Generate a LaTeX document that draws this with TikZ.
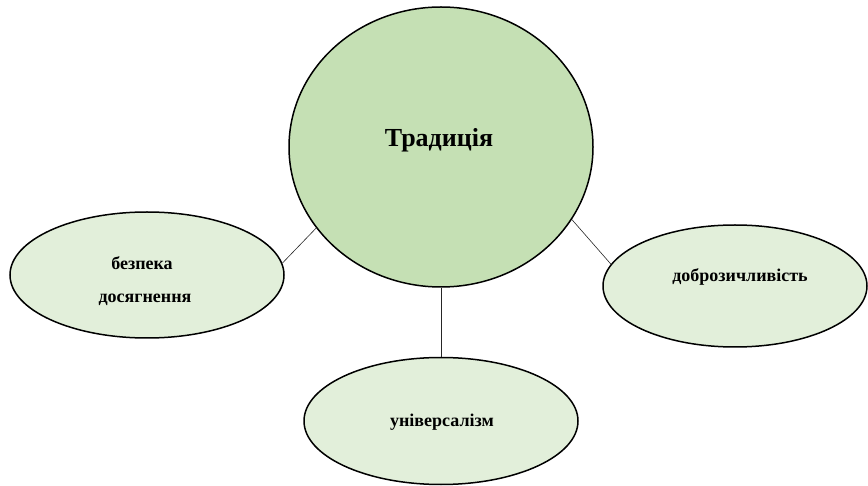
\documentclass[tikz,border=0pt]{standalone}
\usepackage{fontspec}
\setmainfont{Liberation Serif}
\usetikzlibrary{shapes.geometric}
\definecolor{maingreen}{HTML}{C5E0B4}
\definecolor{lightgreen}{HTML}{E2EFDA}
\tikzset{
  oval/.style={ellipse, draw=black, line width=1.5pt, inner sep=0pt},
  bigoval/.style={oval, fill=maingreen, minimum width=304pt, minimum height=280pt},
  smalloval/.style={oval, fill=lightgreen},
  lbl/.style={font=\bfseries\fontsize{18}{20}\selectfont, inner sep=0pt},
  link/.style={draw=black!85, line width=0.6pt}
}
\begin{document}
\begin{tikzpicture}[x=1pt,y=-1pt]
\useasboundingbox (0,0) rectangle (868,486);

% central circle with its title
\node[bigoval] (trad) at (441,147) {};
\node[font=\bfseries\fontsize{26}{28}\selectfont, inner sep=0pt] (tradtitle) at (439,140) {Традиція};

% surrounding ovals
\node[smalloval, minimum width=274pt, minimum height=126pt] (left) at (147,275) {};
\node[lbl] (leftA) at (142,263) {безпека};
\node[lbl] (leftB) at (145,300) {досягнення};

\node[smalloval, minimum width=264pt, minimum height=122pt] (right) at (735,286) {};
\node[lbl] (rightlbl) at (740,277) {доброзичливість};

\node[smalloval, minimum width=274pt, minimum height=127pt] (uni) at (441,421) {};
\node[lbl] (unilbl) at (442,422) {універсалізм};

% connectors
\draw[link] (trad.213) -- (left.5);
\draw[link] (trad.331) -- (right.170);
\draw[link] (trad.south) -- (uni.north);
\end{tikzpicture}
\end{document}
